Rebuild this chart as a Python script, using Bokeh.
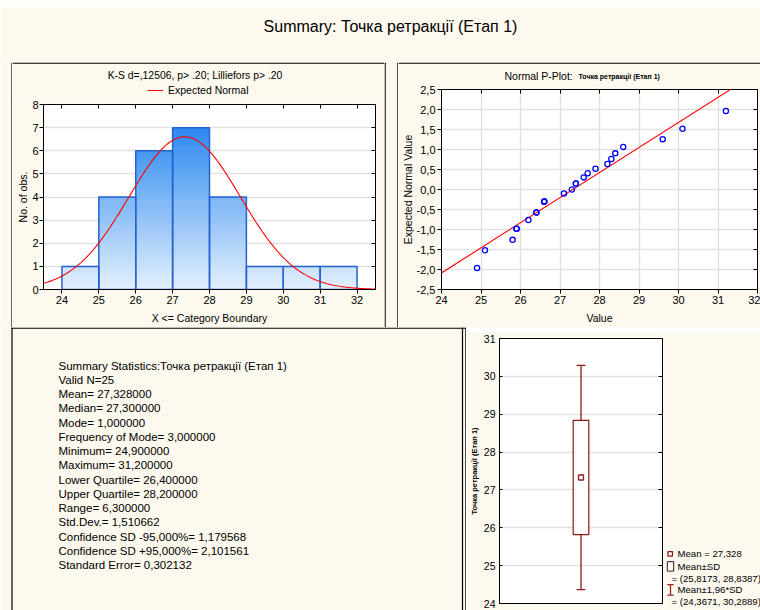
import numpy as np

from bokeh.core.properties import value
from bokeh.embed import file_html
from bokeh.layouts import column, row
from bokeh.models import (ColumnDataSource, CustomJSTickFormatter, FixedTicker,
                          LinearAxis, Range1d)
from bokeh.plotting import figure
from bokeh.resources import INLINE

# ------------------------------------------------------------------ data
variable = "Точка ретракції (Етап 1)"
values = [24.9, 25.1, 25.8, 25.9, 25.9, 26.2, 26.4, 26.4, 26.6, 26.6, 26.6,
          27.1, 27.3, 27.4, 27.4, 27.6, 27.7, 27.9, 28.2, 28.3, 28.4, 28.6,
          29.6, 30.1, 31.2]
expected_normal = [-1.964, -1.519, -1.259, -0.981, -0.981, -0.763, -0.576, -0.576,
                   -0.302, -0.302, -0.302, -0.099, 0.000, 0.149, 0.149, 0.302,
                   0.408, 0.519, 0.636, 0.763, 0.904, 1.065, 1.259, 1.519, 1.964]
bin_edges = [24, 25, 26, 27, 28, 29, 30, 31, 32]
bin_counts = [1, 4, 6, 7, 4, 1, 1, 1]
mean_val = 27.328
sd_val = 1.510662
ks_caption = "K-S d=,12506, p> .20; Lilliefors p> .20"
summary_lines = [
    "Summary Statistics:" + variable,
    "Valid N=25",
    "Mean= 27,328000",
    "Median= 27,300000",
    "Mode=  1,000000",
    "Frequency of Mode=  3,000000",
    "Minimum= 24,900000",
    "Maximum= 31,200000",
    "Lower Quartile= 26,400000",
    "Upper Quartile= 28,200000",
    "Range=  6,300000",
    "Std.Dev.=  1,510662",
    "Confidence SD -95,000%=  1,179568",
    "Confidence SD +95,000%=  2,101561",
    "Standard Error=  0,302132",
]
hist_y_ticks = list(range(0, 9))
pplot_x_ticks = list(range(24, 33))
pplot_y_ticks = [-2.5, -2.0, -1.5, -1.0, -0.5, 0.0, 0.5, 1.0, 1.5, 2.0, 2.5]
box_y_ticks = list(range(24, 32))

# ------------------------------------------------------------------ style
FONT = "Liberation Sans"
CREAM = "#FDF9EE"
GRID = "#E1E1E1"
DARK_RED = "#8B1A1A"
BAR_LINE = "#2462D0"
GRAD_LOW = (228, 240, 253)    # bar colour at y = 0
GRAD_HIGH = (44, 137, 240)    # bar colour at y = 7


def comma(v, digits):
    return f"{v:.{digits}f}".replace(".", ",")


def shade(y):
    t = y / 7.0
    rgb = [round(a + (b - a) * t) for a, b in zip(GRAD_LOW, GRAD_HIGH)]
    rgb = [min(255, max(0, c)) for c in rgb]
    return "#%02x%02x%02x" % tuple(rgb)


def decor(x0, x1, y0, y1, fill=CREAM):
    """Plain drawing surface whose data coordinates are page pixels (y downwards)."""
    p = figure(width=x1 - x0, height=y1 - y0, x_range=Range1d(x0, x1), y_range=Range1d(y1, y0),
               output_backend="svg", toolbar_location=None,
               x_axis_location=None, y_axis_location=None, min_border=0,
               border_fill_color=fill, background_fill_color=fill,
               outline_line_color=None, frame_align=False)
    p.grid.visible = False
    return p


def chart(w, h, xr, yr, left, right, top, bottom, **kw):
    return figure(width=w, height=h, x_range=xr, y_range=yr,
                  output_backend="svg", toolbar_location=None,
                  min_border_left=left, min_border_right=right,
                  min_border_top=top, min_border_bottom=bottom,
                  border_fill_color=CREAM, background_fill_color="white",
                  outline_line_color="black", outline_line_width=1,
                  frame_align=False, **kw)


def style_axis(ax, size="11px", tick_out=4, tick_in=0, standoff=2, label_standoff=5):
    ax.major_tick_out = tick_out
    ax.major_tick_in = tick_in
    ax.minor_tick_out = 0
    ax.minor_tick_in = 0
    ax.axis_line_color = "black"
    ax.major_tick_line_color = "black"
    ax.major_label_text_font = FONT
    ax.major_label_text_font_size = size
    ax.major_label_text_color = "black"
    ax.major_label_standoff = standoff
    ax.axis_label_text_font = FONT
    ax.axis_label_text_font_style = "normal"
    ax.axis_label_text_font_size = "10.5px"
    ax.axis_label_text_color = "black"
    ax.axis_label_standoff = label_standoff


def inner_ticks(p, ticks, place):
    ax = LinearAxis(ticker=FixedTicker(ticks=ticks),
                    formatter=CustomJSTickFormatter(code="return ''"),
                    major_tick_in=4, major_tick_out=0, minor_tick_in=0, minor_tick_out=0,
                    axis_line_color=None, major_tick_line_color="black",
                    major_label_standoff=0, major_label_text_font_size="0px")
    p.add_layout(ax, place)


def write(p, x, y, text, size, align="left", bold=False, color="black"):
    """Text whose vertical middle sits at y."""
    p.text(x=[x], y=[y], text=[text], text_font=value(FONT), text_font_size=size,
           text_align=align, text_baseline="middle", text_color=color,
           text_font_style="bold" if bold else "normal")


def rule(p, x0, y0, x1, y1, color="black", width=1.2):
    p.segment(x0=[x0], y0=[y0], x1=[x1], y1=[y1], line_color=color, line_width=width)


# ------------------------------------------------------------------ page grid (px)
PAGE_W, PAGE_H = 760, 610
ROW1_Y, ROW2_Y = 62, 327
HIST_X0, HIST_X1 = 12, 384
PP_X0 = 398
HIST_CAP_Y1 = 96
PP_CAP_Y1 = 82
STATS_X1 = 466
BOX_TOP_Y1 = 331
BOX_CHART_X1 = 663

# ------------------------------------------------------------------ title strip
title_fig = decor(0, PAGE_W, 0, ROW1_Y)
title_fig.quad(left=[0], right=[PAGE_W], top=[0], bottom=[7], color="white", line_alpha=0)
write(title_fig, 390, 26.1, "Summary: " + variable, "16px", align="center")

# ------------------------------------------------------------------ panel edges, row 1
left_strip = decor(0, HIST_X0, ROW1_Y, ROW2_Y)
rule(left_strip, 11.5, ROW1_Y, 11.5, ROW2_Y)
mid_strip = decor(HIST_X1, PP_X0, ROW1_Y, ROW2_Y)
rule(mid_strip, HIST_X1 + 0.6, ROW1_Y + 0.6, HIST_X1 + 0.6, ROW2_Y)
rule(mid_strip, PP_X0 - 0.6, ROW1_Y + 0.6, PP_X0 - 0.6, ROW2_Y)
rule(mid_strip, HIST_X1, ROW1_Y + 0.7, HIST_X1 + 1.2, ROW1_Y + 0.7)
rule(mid_strip, PP_X0 - 1.2, ROW1_Y + 0.7, PP_X0, ROW1_Y + 0.7)

# ------------------------------------------------------------------ histogram caption
hist_cap = decor(HIST_X0, HIST_X1, ROW1_Y, HIST_CAP_Y1)
rule(hist_cap, HIST_X0, ROW1_Y + 0.7, HIST_X1, ROW1_Y + 0.7)
write(hist_cap, 194.5, 74.8, ks_caption, "10.4px", align="center")
rule(hist_cap, 147, 90, 162.5, 90, color="#FF0000", width=1.2)
write(hist_cap, 167.5, 89.8, "Expected Normal", "10.5px")

# ------------------------------------------------------------------ histogram
hist = chart(HIST_X1 - HIST_X0, ROW2_Y - HIST_CAP_Y1, Range1d(23.5, 32.5), Range1d(0, 8),
             43 - HIST_X0, HIST_X1 - 375, 104 - HIST_CAP_Y1, ROW2_Y - 289)
hist.xgrid.visible = False
hist.ygrid.grid_line_color = GRID
hist.ygrid.grid_line_width = 1.5
hist.xaxis.ticker = FixedTicker(ticks=bin_edges)
hist.yaxis.ticker = FixedTicker(ticks=hist_y_ticks)
hist.xaxis.axis_label = "X <= Category Boundary"
hist.yaxis.axis_label = "No. of obs."
style_axis(hist.xaxis[0])
style_axis(hist.yaxis[0], standoff=1, label_standoff=0)
inner_ticks(hist, hist_y_ticks, "right")
inner_ticks(hist, bin_edges, "above")

# gradient-filled bars: each bar is built from thin horizontal bands
STEPS = 12
band = dict(left=[], right=[], bottom=[], top=[], color=[])
for lo, hi, count in zip(bin_edges[:-1], bin_edges[1:], bin_counts):
    for k in range(int(round(count * STEPS))):
        b = k / STEPS
        t = min((k + 1) / STEPS + 0.03, count)
        band["left"].append(lo)
        band["right"].append(hi)
        band["bottom"].append(b)
        band["top"].append(t)
        band["color"].append(shade((b + t) / 2))
hist.quad(left="left", right="right", bottom="bottom", top="top", color="color",
          line_alpha=0, source=ColumnDataSource(band))
hist.quad(left=bin_edges[:-1], right=bin_edges[1:], bottom=0, top=bin_counts,
          fill_alpha=0, line_color=BAR_LINE, line_width=1.5)

# expected normal curve scaled to counts per unit bin
n_obs = len(values)
bin_w = bin_edges[1] - bin_edges[0]
xs = np.linspace(23.5, 32.5, 241)
ys = n_obs * bin_w * np.exp(-0.5 * ((xs - mean_val) / sd_val) ** 2) / (sd_val * np.sqrt(2 * np.pi))
hist.line(xs, ys, line_color="#FF0000", line_width=1.1)

# ------------------------------------------------------------------ normal probability plot caption
pp_cap = decor(PP_X0, PAGE_W, ROW1_Y, PP_CAP_Y1)
rule(pp_cap, PP_X0, ROW1_Y + 0.7, PAGE_W, ROW1_Y + 0.7)
write(pp_cap, 504, 75.4, "Normal P-Plot: ", "10.5px")
write(pp_cap, 578, 76.0, variable, "7px", bold=True)

# ------------------------------------------------------------------ normal probability plot
pplot = chart(PAGE_W - PP_X0, ROW2_Y - PP_CAP_Y1, Range1d(24, 32), Range1d(-2.5, 2.5),
              441 - PP_X0, PAGE_W - 757, 89 - PP_CAP_Y1, ROW2_Y - 289)
pplot.grid.grid_line_color = GRID
pplot.grid.grid_line_width = 1.5
pplot.xaxis.ticker = FixedTicker(ticks=pplot_x_ticks)
pplot.yaxis.ticker = FixedTicker(ticks=pplot_y_ticks)
pplot.yaxis.formatter = CustomJSTickFormatter(code="return tick.toFixed(1).replace('.', ',')")
pplot.xaxis.axis_label = "Value"
pplot.yaxis.axis_label = "Expected Normal Value"
style_axis(pplot.xaxis[0])
style_axis(pplot.yaxis[0], label_standoff=0)
inner_ticks(pplot, pplot_y_ticks, "right")
inner_ticks(pplot, pplot_x_ticks, "above")

slope, intercept = np.polyfit(values, expected_normal, 1)
fit_x = np.array([23.9, 32.1])
pplot.line(fit_x, slope * fit_x + intercept, line_color="#FF0000", line_width=1.1)
pplot.scatter(values, expected_normal, marker="circle", size=5.2, fill_color=None,
              line_color="#0000FF", line_width=1.3)

# ------------------------------------------------------------------ summary statistics text
stats = decor(0, STATS_X1, ROW2_Y, PAGE_H)
rule(stats, 11, ROW2_Y + 0.6, STATS_X1, ROW2_Y + 0.6)
rule(stats, 11.5, ROW2_Y, 11.5, PAGE_H + 5)
rule(stats, 462, ROW2_Y, 462, PAGE_H + 5)
rule(stats, STATS_X1 - 0.6, ROW2_Y, STATS_X1 - 0.6, PAGE_H + 5)
line_step = 14.24
first_mid = 365.2
stats.text(x=[58] * len(summary_lines),
           y=[first_mid + i * line_step for i in range(len(summary_lines))],
           text=summary_lines, text_font=value(FONT), text_font_size="11.5px",
           text_baseline="middle", text_color="black")

# ------------------------------------------------------------------ box plot
box_top = decor(STATS_X1, PAGE_W, ROW2_Y, BOX_TOP_Y1)
rule(box_top, STATS_X1, ROW2_Y + 0.6, PAGE_W, ROW2_Y + 0.6)

box = chart(BOX_CHART_X1 - STATS_X1, PAGE_H - BOX_TOP_Y1, Range1d(0, 1), Range1d(24, 31),
            496 - STATS_X1, BOX_CHART_X1 - 662, 338 - BOX_TOP_Y1, PAGE_H - 603,
            x_axis_location=None)
box.xgrid.visible = False
box.ygrid.grid_line_color = GRID
box.ygrid.grid_line_width = 1.5
box.yaxis.ticker = FixedTicker(ticks=box_y_ticks)
box.yaxis.axis_label = variable
style_axis(box.yaxis[0], size="10.5px", tick_out=0, tick_in=3, standoff=4, label_standoff=2)
box.yaxis.axis_label_text_font_size = "7.5px"
box.yaxis.axis_label_text_font_style = "bold"
inner_ticks(box, box_y_ticks, "right")

centre = 0.5
box_half = 0.048
cap_half = 0.027
lo_sd, hi_sd = mean_val - sd_val, mean_val + sd_val
lo_ci, hi_ci = mean_val - 1.96 * sd_val, mean_val + 1.96 * sd_val
box.segment(x0=[centre, centre], y0=[hi_sd, lo_sd], x1=[centre, centre], y1=[hi_ci, lo_ci],
            line_color=DARK_RED, line_width=1.3)
box.segment(x0=[centre - cap_half] * 2, y0=[hi_ci, lo_ci], x1=[centre + cap_half] * 2,
            y1=[hi_ci, lo_ci], line_color=DARK_RED, line_width=1.3)
box.quad(left=[centre - box_half], right=[centre + box_half], bottom=[lo_sd], top=[hi_sd],
         fill_color="white", line_color=DARK_RED, line_width=1.2)
box.scatter([centre], [mean_val], marker="square", size=5, fill_color="white",
            line_color=DARK_RED, line_width=1.3)

# legend beside the box plot
box_key = decor(BOX_CHART_X1, PAGE_W, BOX_TOP_Y1, PAGE_H)
box_key.scatter([669.7], [553.3], marker="square", size=4.5, fill_color="white",
                line_color=DARK_RED, line_width=1.3)
box_key.quad(left=[666.8], right=[673.2], top=[561.2], bottom=[570.6],
             fill_color="white", line_color="#3A1212", line_width=1)
box_key.segment(x0=[670, 666.8, 666.8], y0=[584.2, 584.2, 594.6],
                x1=[670, 673.2, 673.2], y1=[594.6, 584.2, 594.6],
                line_color="#A02020", line_width=1.3)
KEY_SIZE = "9.6px"
write(box_key, 677, 553.3, f"Mean = {comma(mean_val, 3)}", KEY_SIZE)
write(box_key, 677, 565.9, "Mean±SD", KEY_SIZE)
write(box_key, 671, 577.9, f"= ({comma(lo_sd, 4)}, {comma(hi_sd, 4)})", KEY_SIZE)
write(box_key, 677, 589.3, "Mean±1,96*SD", KEY_SIZE)
write(box_key, 671, 600.8, f"= ({comma(lo_ci, 4)}, {comma(hi_ci, 4)})", KEY_SIZE)

# ------------------------------------------------------------------ page
page = column(
    title_fig,
    row(left_strip, column(hist_cap, hist), mid_strip, column(pp_cap, pplot)),
    row(stats, column(box_top, row(box, box_key))),
)

with open("out.html", "w") as f:
    f.write(file_html(page, INLINE))
